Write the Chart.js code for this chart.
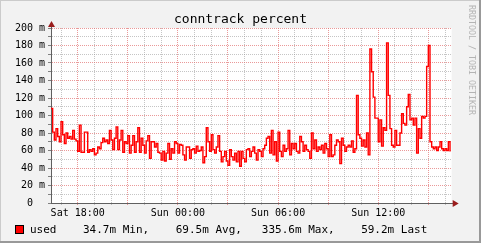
<!DOCTYPE html>
<html lang="en">
  <head>
    <meta charset="UTF-8" />
    <title>conntrack percent</title>
    <script src="https://cdn.jsdelivr.net/npm/chart.js"></script>
    <style>
      html,
      body {
        margin: 0;
        padding: 0;
        background: #f2f2f2;
      }
    </style>
  </head>
  <body>
    <canvas id="conntrackChart" width="481" height="243"></canvas>

    <script>
      // time axis in hours since Sat 00:00, one sample every 6 minutes
      const startHour = 16.4;
      const stepHours = 0.1;

      // "used" in milli-percent
      const usedValues = [
        108, 81, 72, 85, 76, 70, 93, 78, 68, 80,
        74, 76, 73, 83, 73, 71, 59, 89, 58, 58,
        81, 81, 58, 61, 59, 62, 55, 57, 64, 62,
        69, 74, 70, 72, 68, 83, 72, 61, 74, 87,
        61, 72, 83, 58, 70, 68, 77, 57, 66, 77,
        58, 70, 86, 58, 74, 66, 57, 71, 77, 51,
        70, 70, 64, 68, 58, 57, 49, 59, 48, 57,
        68, 50, 62, 57, 70, 68, 57, 67, 66, 55,
        49, 64, 64, 51, 61, 62, 57, 65, 59, 60,
        64, 46, 53, 86, 70, 59, 78, 61, 57, 64,
        77, 59, 47, 53, 59, 48, 43, 61, 53, 49,
        57, 47, 59, 42, 59, 51, 47, 61, 62, 53,
        59, 64, 57, 49, 61, 59, 53, 62, 66, 74,
        76, 57, 83, 55, 70, 48, 81, 59, 53, 66,
        59, 62, 83, 55, 68, 62, 68, 59, 57, 76,
        70, 59, 66, 61, 59, 51, 80, 62, 72, 59,
        64, 61, 66, 57, 68, 62, 53, 78, 53, 55,
        66, 72, 70, 45, 74, 66, 59, 64, 66, 64,
        71, 58, 62, 123, 78, 74, 65, 72, 64, 80,
        55, 176, 150, 121, 97, 97, 70, 95, 65, 86,
        83, 183, 123, 85, 66, 64, 83, 66, 66, 80,
        102, 91, 89, 110, 124, 95, 97, 89, 97, 57,
        85, 74, 99, 97, 99, 156, 180, 70, 64, 62,
        64, 60, 64, 70, 62, 60, 62, 60, 70, 59,
      ];

      // hourly grid, labels every 6 hours
      const hourTicks = [
        17, 18, 19, 20, 21, 22, 23, 24, 25, 26, 27, 28,
        29, 30, 31, 32, 33, 34, 35, 36, 37, 38, 39, 40,
      ];
      const hourLabels = {
        18: "Sat 18:00",
        24: "Sun 00:00",
        30: "Sun 06:00",
        36: "Sun 12:00",
      };

      const chartTitle = "conntrack percent";
      const legendText =
        "used    34.7m Min,    69.5m Avg,   335.6m Max,    59.2m Last";
      const watermark = "RRDTOOL / TOBI OETIKER";

      const MONO = "'DejaVu Sans Mono', 'Liberation Mono', monospace";
      const MINOR = "rgba(150, 150, 150, 0.55)";
      const MAJOR = "rgba(225, 110, 110, 0.7)";

      const points = usedValues.map((v, i) => ({
        x: startHour + i * stepHours,
        y: v,
      }));

      // rrdtool-like frame, title, legend and arrows
      const rrdDecor = {
        id: "rrdDecor",
        beforeDraw(chart) {
          const { ctx, chartArea: a, width, height } = chart;
          ctx.save();
          ctx.fillStyle = "#f2f2f2";
          ctx.fillRect(0, 0, width, height);
          ctx.fillStyle = "#ffffff";
          ctx.fillRect(a.left, a.top, a.right - a.left, a.bottom - a.top);

          ctx.fillStyle = "#cbcbcb";
          ctx.fillRect(0, 0, width, 1);
          ctx.fillRect(0, 0, 1, height);
          ctx.fillStyle = "#999999";
          ctx.fillRect(0, height - 2, width, 2);
          ctx.fillRect(width - 2, 0, 2, height);

          // title
          ctx.fillStyle = "#000";
          ctx.font = "13px " + MONO;
          ctx.textAlign = "center";
          ctx.textBaseline = "alphabetic";
          ctx.fillText(chartTitle, width / 2, 23);

          // legend
          ctx.fillStyle = "#ff0000";
          ctx.fillRect(15, 225, 8, 8);
          ctx.strokeStyle = "#000";
          ctx.lineWidth = 1;
          ctx.strokeRect(15.5, 225.5, 8, 8);
          ctx.fillStyle = "#000";
          ctx.font = "11px " + MONO;
          ctx.textAlign = "left";
          ctx.fillText(legendText, 30, 233);

          // vertical watermark
          ctx.translate(468.5, 5);
          ctx.rotate(Math.PI / 2);
          ctx.fillStyle = "#b4b4b4";
          ctx.font = "8.3px " + MONO;
          ctx.fillText(watermark, 0, 0);
          ctx.restore();
        },
        afterDraw(chart) {
          const { ctx, chartArea: a } = chart;
          ctx.save();
          ctx.strokeStyle = "#606060";
          ctx.lineWidth = 1;
          ctx.beginPath();
          ctx.moveTo(a.right, a.bottom + 0.5);
          ctx.lineTo(a.right + 3, a.bottom + 0.5);
          ctx.moveTo(a.left + 0.5, a.top);
          ctx.lineTo(a.left + 0.5, a.top - 3);
          ctx.stroke();

          ctx.fillStyle = "#9a1c1c";
          ctx.beginPath();
          ctx.moveTo(a.right + 7, a.bottom + 0.5);
          ctx.lineTo(a.right + 1, a.bottom - 3);
          ctx.lineTo(a.right + 1, a.bottom + 4);
          ctx.closePath();
          ctx.fill();
          ctx.beginPath();
          ctx.moveTo(a.left + 0.5, a.top - 7);
          ctx.lineTo(a.left - 3, a.top - 1);
          ctx.lineTo(a.left + 4, a.top - 1);
          ctx.closePath();
          ctx.fill();
          ctx.restore();
        },
      };

      new Chart(document.getElementById("conntrackChart"), {
        type: "line",
        data: {
          datasets: [
            {
              label: "used",
              data: points,
              borderColor: "#ff0000",
              borderWidth: 1.4,
              stepped: true,
              pointRadius: 0,
              fill: false,
            },
          ],
        },
        options: {
          responsive: false,
          animation: false,
          layout: { padding: { top: 28, right: 29.3, bottom: 0, left: 0 } },
          plugins: {
            legend: { display: false },
            tooltip: { enabled: false },
          },
          scales: {
            x: {
              type: "linear",
              min: startHour,
              max: startHour + 24,
              afterBuildTicks: (scale) => {
                scale.ticks = hourTicks.map((h) => ({ value: h }));
              },
              afterFit: (scale) => {
                scale.height = 40;
              },
              ticks: {
                autoSkip: false,
                maxRotation: 0,
                padding: 1,
                color: "#000",
                font: { family: MONO, size: 10 },
                callback: (v) => hourLabels[v] || "",
              },
              grid: {
                color: (c) => (c.tick && c.tick.value % 3 === 0 ? MAJOR : MINOR),
                tickColor: (c) => (c.tick && c.tick.value % 3 === 0 ? MAJOR : MINOR),
                tickLength: 3,
                tickBorderDash: [1, 1],
              },
              border: { color: "#606060", dash: [1, 1] },
            },
            y: {
              min: 0,
              max: 200,
              afterFit: (scale) => {
                scale.width = 51;
              },
              ticks: {
                stepSize: 10,
                autoSkip: false,
                padding: 3,
                color: "#000",
                font: { family: MONO, size: 10 },
                callback: (v) => (v % 20 !== 0 ? "" : v === 0 ? "  0  " : v + " m"),
              },
              grid: {
                color: (c) => (c.tick && c.tick.value % 20 === 0 ? MAJOR : MINOR),
                tickColor: "#808080",
                tickLength: 3,
              },
              border: { color: "#606060", dash: [1, 1] },
            },
          },
        },
        plugins: [rrdDecor],
      });
    </script>
  </body>
</html>
